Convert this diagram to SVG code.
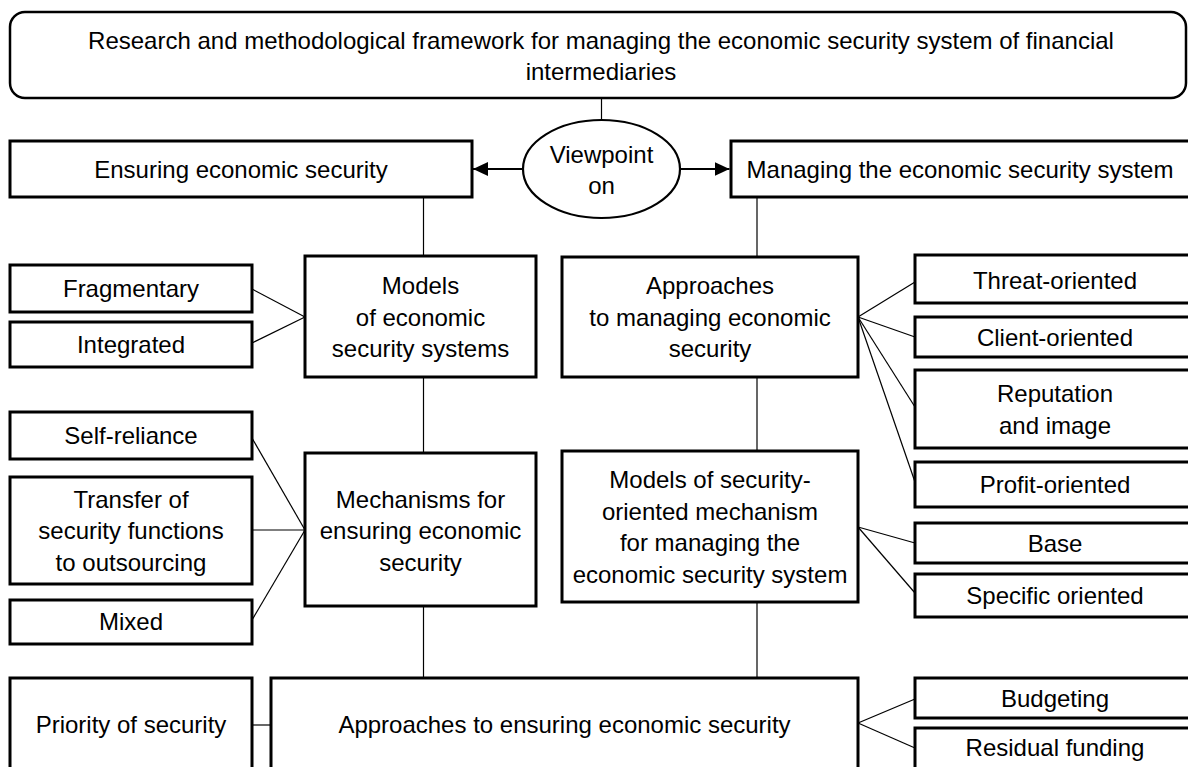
<svg xmlns="http://www.w3.org/2000/svg" width="1188" height="767" viewBox="0 0 1188 767">
<style>
  .box { fill: #fff; stroke: #000; stroke-width: 3; }
  .top { fill: #fff; stroke: #000; stroke-width: 2.5; }
  .ell { fill: #fff; stroke: #000; stroke-width: 2.2; }
  .ln { fill: none; stroke: #000; stroke-width: 1.2; }
  .arr { fill: none; stroke: #000; stroke-width: 2; }
  text { font-family: "Liberation Sans", Arial, sans-serif; font-size: 24px; fill: #000; text-anchor: middle; }
</style>
<defs>
  <marker id="ah" markerWidth="15" markerHeight="14" refX="15" refY="7" orient="auto" markerUnits="userSpaceOnUse">
    <path d="M0,0 L15,7 L0,14 Z" fill="#000"/>
  </marker>
</defs>
<rect width="1188" height="767" fill="#fff"/>

<g id="connectors">
  <line class="ln" x1="601.5" y1="98" x2="601.5" y2="120"/>
  <line class="arr" x1="523" y1="169" x2="473" y2="169" marker-end="url(#ah)"/>
  <line class="arr" x1="680" y1="169" x2="729.5" y2="169" marker-end="url(#ah)"/>
  <line class="ln" x1="423.5" y1="197" x2="423.5" y2="256"/>
  <line class="ln" x1="423.5" y1="377" x2="423.5" y2="453"/>
  <line class="ln" x1="423.5" y1="606" x2="423.5" y2="678"/>
  <line class="ln" x1="757" y1="197" x2="757" y2="257"/>
  <line class="ln" x1="757" y1="377" x2="757" y2="451"/>
  <line class="ln" x1="757" y1="602" x2="757" y2="678"/>
  <line class="ln" x1="252" y1="289" x2="305" y2="317"/>
  <line class="ln" x1="252" y1="343" x2="305" y2="317"/>
  <line class="ln" x1="252" y1="438" x2="305" y2="530"/>
  <line class="ln" x1="252" y1="530" x2="305" y2="530"/>
  <line class="ln" x1="252" y1="620" x2="305" y2="530"/>
  <line class="ln" x1="858" y1="317" x2="915" y2="282"/>
  <line class="ln" x1="858" y1="317" x2="915" y2="337"/>
  <line class="ln" x1="858" y1="317" x2="915" y2="407"/>
  <line class="ln" x1="858" y1="317" x2="915" y2="482"/>
  <line class="ln" x1="858" y1="527" x2="915" y2="543"/>
  <line class="ln" x1="858" y1="527" x2="915" y2="593"/>
  <line class="ln" x1="858" y1="723" x2="915" y2="699"/>
  <line class="ln" x1="858" y1="723" x2="915" y2="748"/>
  <line class="ln" x1="252" y1="725" x2="271" y2="725"/>
</g>

<g id="n-title">
  <rect class="top" x="10" y="12" width="1176" height="86" rx="15" ry="15"/>
  <text x="601" y="49">Research and methodological framework for managing the economic security system of financial</text>
  <text x="601" y="80">intermediaries</text>
</g>

<g id="n-viewpoint">
  <ellipse class="ell" cx="601.5" cy="169" rx="78.5" ry="49"/>
  <text x="601.5" y="163">Viewpoint</text>
  <text x="601.5" y="194">on</text>
</g>

<g id="n-ensuring">
  <rect class="box" x="10" y="141" width="462" height="56"/>
  <text x="241" y="178">Ensuring economic security</text>
</g>

<g id="n-managing">
  <rect class="box" x="731" y="141" width="464" height="56"/>
  <text x="960" y="178">Managing the economic security system</text>
</g>

<g id="n-models">
  <rect class="box" x="305" y="256" width="231" height="121"/>
  <text x="420.5" y="294">Models</text>
  <text x="420.5" y="326">of economic</text>
  <text x="420.5" y="357">security systems</text>
</g>

<g id="n-approaches-managing">
  <rect class="box" x="562" y="257" width="296" height="120"/>
  <text x="710" y="294">Approaches</text>
  <text x="710" y="326">to managing economic</text>
  <text x="710" y="357">security</text>
</g>

<g id="n-fragmentary">
  <rect class="box" x="10" y="265" width="242" height="47"/>
  <text x="131" y="297">Fragmentary</text>
</g>

<g id="n-integrated">
  <rect class="box" x="10" y="322" width="242" height="45"/>
  <text x="131" y="353">Integrated</text>
</g>

<g id="n-self">
  <rect class="box" x="10" y="412" width="242" height="47"/>
  <text x="131" y="444">Self-reliance</text>
</g>

<g id="n-transfer">
  <rect class="box" x="10" y="477" width="242" height="107"/>
  <text x="131" y="507.5">Transfer of</text>
  <text x="131" y="539">security functions</text>
  <text x="131" y="570.5">to outsourcing</text>
</g>

<g id="n-mixed">
  <rect class="box" x="10" y="600" width="242" height="44"/>
  <text x="131" y="630">Mixed</text>
</g>

<g id="n-mechanisms">
  <rect class="box" x="305" y="453" width="231" height="153"/>
  <text x="420.5" y="507.5">Mechanisms for</text>
  <text x="420.5" y="539">ensuring economic</text>
  <text x="420.5" y="570.5">security</text>
</g>

<g id="n-models-security">
  <rect class="box" x="562" y="451" width="296" height="151"/>
  <text x="710" y="488">Models of security-</text>
  <text x="710" y="519.5">oriented mechanism</text>
  <text x="710" y="551">for managing the</text>
  <text x="710" y="582.5">economic security system</text>
</g>

<g id="n-threat">
  <rect class="box" x="915" y="255" width="281" height="48"/>
  <text x="1055" y="289">Threat-oriented</text>
</g>

<g id="n-client">
  <rect class="box" x="915" y="317" width="281" height="40"/>
  <text x="1055" y="345.5">Client-oriented</text>
</g>

<g id="n-reputation">
  <rect class="box" x="915" y="370" width="281" height="78"/>
  <text x="1055" y="402">Reputation</text>
  <text x="1055" y="433.5">and image</text>
</g>

<g id="n-profit">
  <rect class="box" x="915" y="462" width="281" height="45"/>
  <text x="1055" y="493">Profit-oriented</text>
</g>

<g id="n-base">
  <rect class="box" x="915" y="523" width="281" height="40"/>
  <text x="1055" y="551.5">Base</text>
</g>

<g id="n-specific">
  <rect class="box" x="915" y="574" width="281" height="43"/>
  <text x="1055" y="604">Specific oriented</text>
</g>

<g id="n-budgeting">
  <rect class="box" x="915" y="678" width="281" height="40"/>
  <text x="1055" y="706.5">Budgeting</text>
</g>

<g id="n-residual">
  <rect class="box" x="915" y="728" width="281" height="50"/>
  <text x="1055" y="756">Residual funding</text>
</g>

<g id="n-priority">
  <rect class="box" x="10" y="678" width="242" height="100"/>
  <text x="131" y="733">Priority of security</text>
</g>

<g id="n-approaches-ensuring">
  <rect class="box" x="271" y="678" width="587" height="100"/>
  <text x="564.5" y="733">Approaches to ensuring economic security</text>
</g>
</svg>
